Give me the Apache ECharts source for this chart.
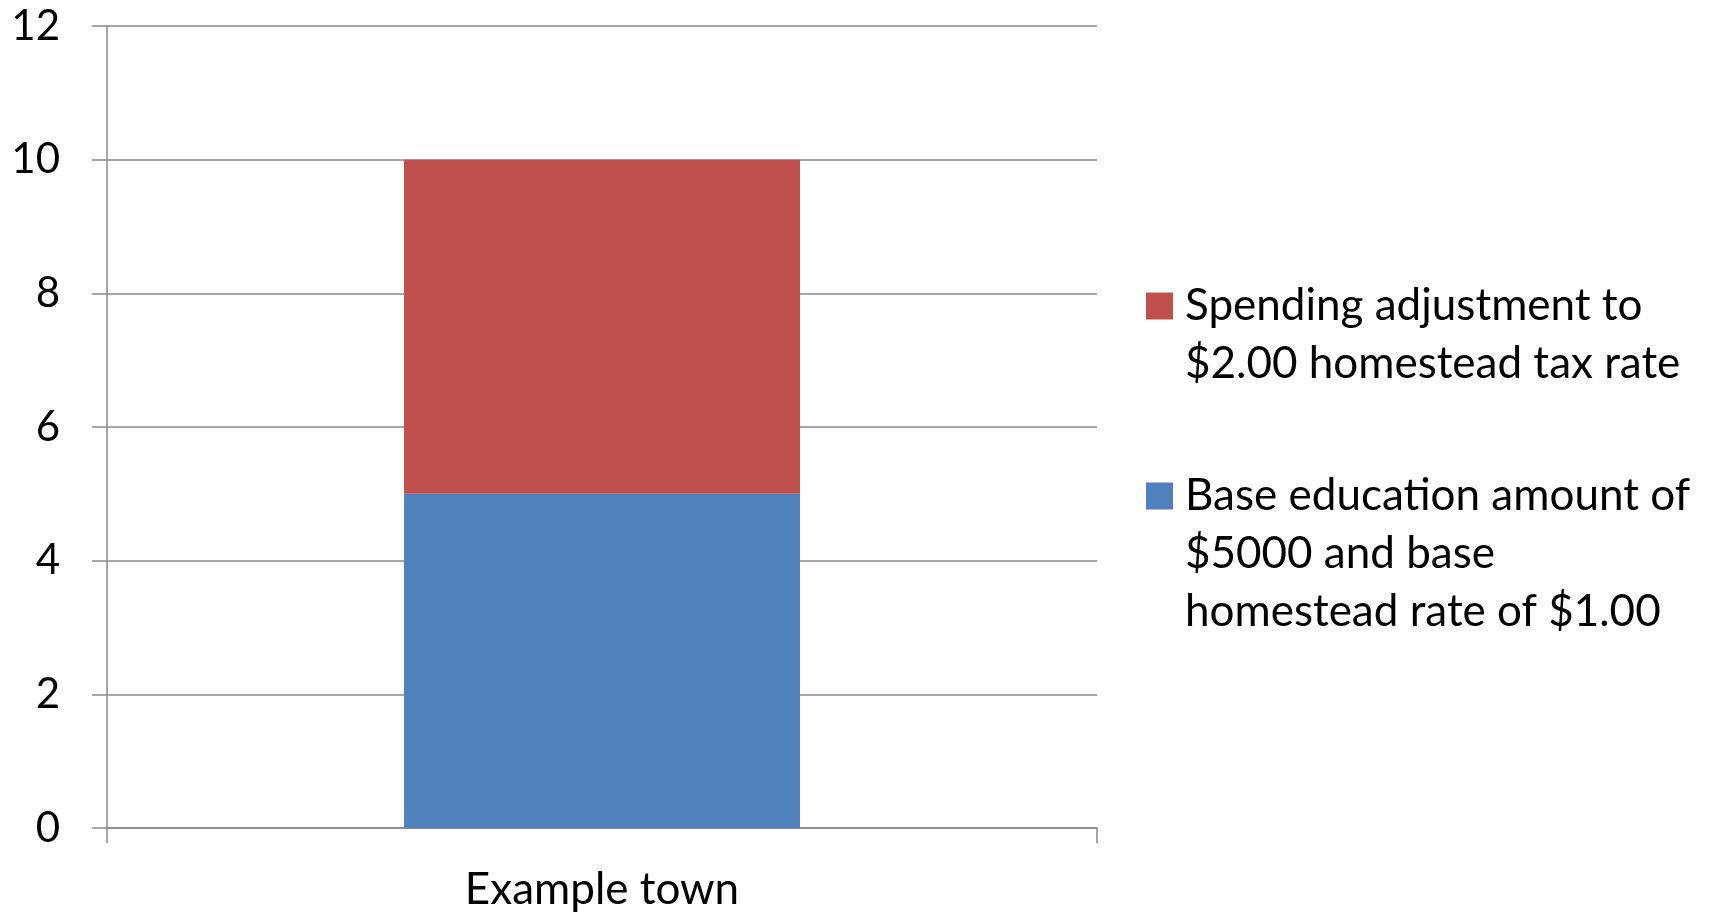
<!DOCTYPE html>
<html><head><meta charset="utf-8">
<script src="https://cdn.jsdelivr.net/npm/echarts@6/dist/echarts.min.js"></script>
<style>html,body{margin:0;padding:0;background:#fff}#c{width:1712px;height:914px}</style>
</head><body><div id="c"></div>
<script>
const categories = ['Example town'];
const baseName = 'Base education amount of\n$5000 and base\nhomestead rate of $1.00';
const spendName = 'Spending adjustment to\n$2.00 homestead tax rate';
const baseValues = [5];
const spendValues = [5];
const FONT = 'Lato';
const chart = echarts.init(document.getElementById('c'));
function padTop(name){ const n = name.split('\n').length; return '\n'.repeat(n-1) + name; }
chart.setOption({
  animation: false,
  grid: {left: 107, right: 615, top: 26, bottom: 86},
  legend: {
    orient: 'vertical', left: 1146, top: 219, padding: 0,
    itemWidth: 27, itemHeight: 27, itemGap: -42,
    icon: 'rect',
    data: [spendName, baseName],
    formatter: padTop,
    textStyle: {fontFamily: FONT, fontSize: 44, color: '#000', lineHeight: 58, padding: [0,0,0,7]}
  },
  xAxis: {
    type: 'category', data: categories,
    axisLine: {lineStyle: {color: '#898989', width: 1.5}},
    axisTick: {show: true, length: 15, lineStyle: {color: '#898989', width: 1.5}},
    axisLabel: {fontFamily: FONT, fontSize: 44, color: '#000', margin: 40}
  },
  yAxis: {
    type: 'value', min: 0, max: 12, interval: 2,
    axisLine: {show: true, lineStyle: {color: '#898989', width: 1.5}},
    axisTick: {show: true, length: 15, lineStyle: {color: '#898989', width: 1.5}},
    splitLine: {lineStyle: {color: '#898989', width: 1.5}},
    axisLabel: {fontFamily: FONT, fontSize: 42, color: '#000', margin: 47}
  },
  series: [
    {name: baseName, type: 'bar', stack: 't', data: baseValues, barWidth: '40%', itemStyle: {color: '#4F81BD'}},
    {name: spendName, type: 'bar', stack: 't', data: spendValues, barWidth: '40%', itemStyle: {color: '#C0504D'}}
  ]
});
</script></body></html>
